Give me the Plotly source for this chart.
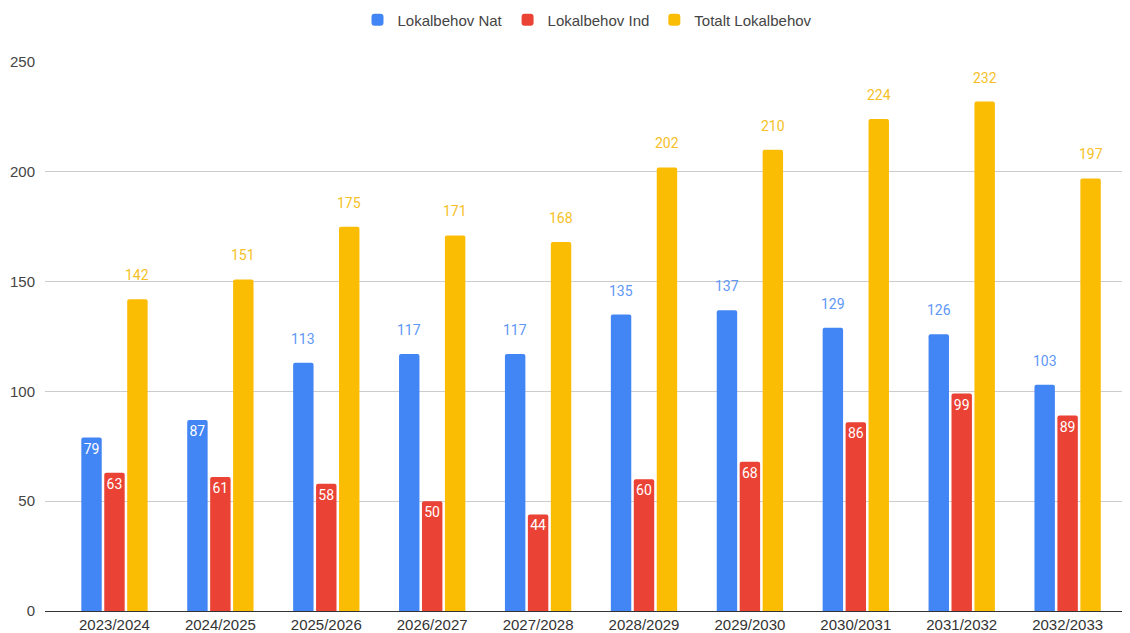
import plotly.graph_objects as go

categories = ["2023/2024", "2024/2025", "2025/2026", "2026/2027", "2027/2028",
              "2028/2029", "2029/2030", "2030/2031", "2031/2032", "2032/2033"]
nat = [79, 87, 113, 117, 117, 135, 137, 129, 126, 103]
ind = [63, 61, 58, 50, 44, 60, 68, 86, 99, 89]
total = [142, 151, 175, 171, 168, 202, 210, 224, 232, 197]

BLUE, RED, YELLOW = "#4285F4", "#EA4335", "#FBBC04"
BLUE_T, YELLOW_T = "#5E97F6", "#F6BF26"

# page has an 8px body margin; figure sized to fit inside the window
W, H = 1122, 625
ML, MR, MT, MB = 37, 0, 54, 22
X_RANGE = [-0.656, 9.589]
BARGAP, GROUPGAP = 0.35, 0.11

def inside_mask(vals, threshold):
    return [v < threshold for v in vals]

series = [
    ("Lokalbehov Nat", nat, BLUE, BLUE_T, inside_mask(nat, 100)),
    ("Lokalbehov Ind", ind, RED, RED, inside_mask(ind, 1000)),
    ("Totalt Lokalbehov", total, YELLOW, YELLOW_T, inside_mask(total, 0)),
]

fig = go.Figure()
px_per_cat = (W - ML - MR) / (X_RANGE[1] - X_RANGE[0])
slot = px_per_cat * (1 - BARGAP) / len(series)
annotations = []
for k, (name, vals, col, tcol, inside) in enumerate(series):
    fig.add_trace(go.Bar(
        name=name, x=categories, y=vals,
        marker=dict(color=col, line_width=0, cornerradius=2),
        text=[str(v) if i else "" for v, i in zip(vals, inside)],
        textposition="inside",
        insidetextanchor="end", textangle=0, constraintext="none",
        insidetextfont=dict(color="white", size=14, family="Roboto"),
        cliponaxis=False,
    ))
    shift = (k - (len(series) - 1) / 2) * slot
    for c, v, i in zip(categories, vals, inside):
        if not i:
            annotations.append(dict(
                x=c, y=v, xref="x", yref="y", text=str(v), showarrow=False,
                xanchor="center", yanchor="middle", xshift=shift, yshift=24,
                font=dict(family="Roboto", size=14, color=tcol),
            ))

fig.update_layout(
    width=W, height=H,
    barmode="group", bargap=BARGAP, bargroupgap=GROUPGAP,
    plot_bgcolor="white", paper_bgcolor="white",
    margin=dict(l=ML, r=MR, t=MT, b=MB, autoexpand=False),
    font=dict(family="Liberation Sans, Arial", size=15, color="#444444"),
    legend=dict(orientation="h", x=0.5, xanchor="center", y=1 - 12 / H, yanchor="middle",
                yref="container", font=dict(size=15, color="#444444"),
                itemwidth=30, traceorder="normal"),
    annotations=annotations,
)
fig.update_xaxes(range=X_RANGE, showgrid=False, showline=False, ticks="", automargin=False,
                 tickfont=dict(size=15, color="#333333"), ticklabelstandoff=3)
fig.update_yaxes(range=[0, 250], dtick=50, showgrid=True, gridcolor="#cccccc",
                 zeroline=True, zerolinecolor="#333333", zerolinewidth=1, automargin=False,
                 tickfont=dict(size=15, color="#444444"), ticks="", ticklabelstandoff=9)

fig.write_html("out.html")
